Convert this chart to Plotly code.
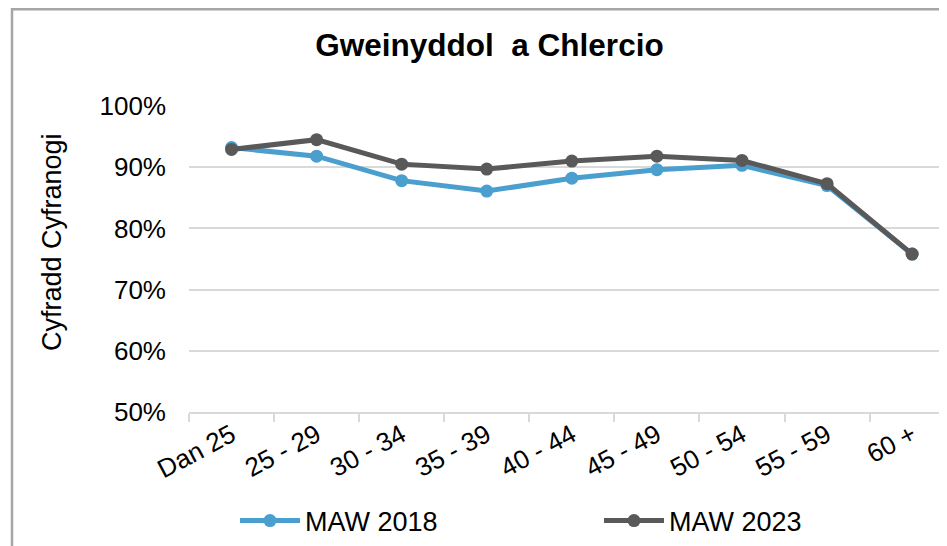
import plotly.graph_objects as go

categories = ["Dan 25", "25 - 29", "30 - 34", "35 - 39", "40 - 44", "45 - 49", "50 - 54", "55 - 59", "60 +"]
maw_2018 = [0.932, 0.918, 0.878, 0.861, 0.882, 0.896, 0.903, 0.870, 0.758]
maw_2023 = [0.929, 0.945, 0.905, 0.897, 0.910, 0.918, 0.911, 0.873, 0.758]
y_ticks = [0.5, 0.6, 0.7, 0.8, 0.9, 1.0]

FONT = "Liberation Sans, Arial, sans-serif"
BLUE = "#4A9FCF"
GRAY = "#595959"
GRID = "#d9d9d9"

FW, FH = 939, 538
L, W, T, H = 181, 758, 98, 306
def px(x):
    return (x - L) / W
def py(y):
    return 1 - (y - T) / H

fig = go.Figure()
fig.add_trace(go.Scatter(
    x=categories, y=maw_2018, name="MAW 2018", mode="lines+markers", legend="legend",
    line=dict(color=BLUE, width=5), marker=dict(color=BLUE, size=13),
))
fig.add_trace(go.Scatter(
    x=categories, y=maw_2023, name="MAW 2023", mode="lines+markers", legend="legend2",
    line=dict(color=GRAY, width=5), marker=dict(color=GRAY, size=13),
))

leg_common = dict(orientation="h", xanchor="left", xref="container",
                  y=1 - 513 / FH, yref="container", yanchor="middle", itemwidth=60,
                  font=dict(family=FONT, size=27, color="#000000"), bgcolor="rgba(0,0,0,0)")

fig.update_layout(
    width=FW, height=FH,
    margin=dict(l=L, r=FW - L - W, t=T, b=FH - T - H, autoexpand=False),
    paper_bgcolor="white", plot_bgcolor="white",
    font=dict(family=FONT, size=26, color="#000000"),
    title=dict(text="<b>Gweinyddol  a Chlercio</b>", x=481.5 / FW, xref="container", xanchor="center",
               y=1 - 37 / FH, yref="container", yanchor="middle",
               font=dict(family=FONT, size=31.5, color="#000000")),
    showlegend=True,
    legend=dict(x=227 / FW, **leg_common),
    legend2=dict(x=591 / FW, **leg_common),
    xaxis=dict(type="category", range=[-0.5, 8.41], tickson="boundaries", automargin=False,
               ticks="outside", ticklen=8, tickcolor=GRID, tickwidth=1.5,
               showline=True, linecolor=GRID, linewidth=1.5, showgrid=False,
               tickangle=-28, tickfont=dict(size=26), ticklabelstandoff=-4, fixedrange=True),
    yaxis=dict(range=[0.5, 1.0], tickvals=y_ticks, tickformat=".0%", automargin=False,
               showgrid=True, gridcolor=GRID, gridwidth=1.5, zeroline=False,
               ticks="", ticklabelstandoff=22, tickfont=dict(size=26), fixedrange=True),
    annotations=[dict(text="Cyfradd Cyfranogi", x=px(44), y=py(234), xref="paper", yref="paper",
                      textangle=-90, showarrow=False, xanchor="center", yanchor="middle",
                      font=dict(family=FONT, size=27, color="#000000"))],
    shapes=[
        dict(type="line", xref="paper", yref="paper", x0=px(4), x1=px(4), y0=py(0), y1=py(560),
             line=dict(color="#a6a6a6", width=2.5)),
        dict(type="line", xref="paper", yref="paper", x0=px(3), x1=px(960), y0=py(1), y1=py(1),
             line=dict(color="#a6a6a6", width=3)),
    ],
)

fig.write_html("out.html")
